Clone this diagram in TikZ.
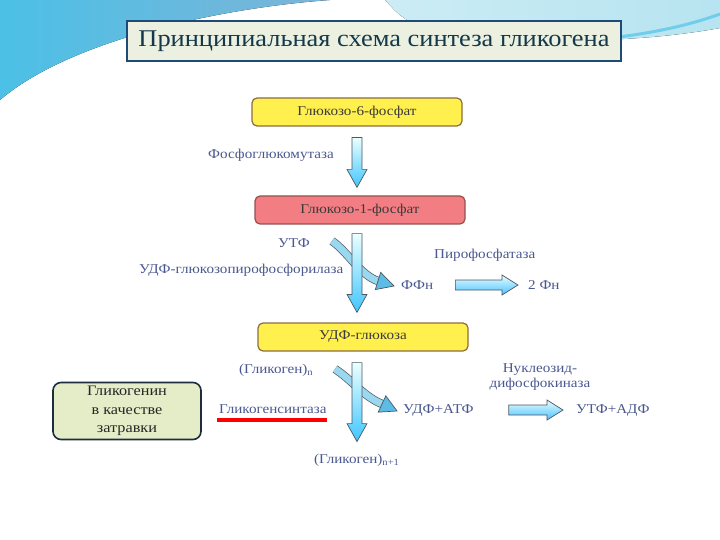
\documentclass[tikz,border=0pt]{standalone}
\usepackage{fontspec}
\setmainfont{Liberation Serif}
\newfontfamily\widef[FakeStretch=1.12]{Liberation Serif}
\newfontfamily\titlef[FakeStretch=1.1]{Liberation Serif}
\usetikzlibrary{calc}
\definecolor{lblc}{HTML}{4A5890}
\definecolor{boxtxt}{HTML}{3A3A3A}
\definecolor{yfill}{HTML}{FFF04E}
\definecolor{ydraw}{HTML}{8C6C3C}
\definecolor{pfill}{HTML}{F27E84}
\definecolor{pdraw}{HTML}{94504E}
\definecolor{arrline}{HTML}{4E5660}
\definecolor{titleline}{HTML}{1E4A78}
\definecolor{titlefill}{HTML}{ECF0E0}
\definecolor{titletxt}{HTML}{15384A}
\definecolor{gfill}{HTML}{E4ECC8}
\definecolor{gdraw}{HTML}{1E2C3E}
\definecolor{cbody}{HTML}{9AD8F0}
\definecolor{chead}{HTML}{5CBCE6}
\definecolor{swleft}{HTML}{4CC0E6}
\definecolor{swmid}{HTML}{7DB4D8}
\definecolor{swright}{HTML}{B6E4F0}
\newcommand\vblk[2]{\path[vblkstyle] let \p1=(#1), \p2=(#2) in
  (\x1-5pt,\y1) -- (\x1+5pt,\y1) -- (\x1+5pt,\y2+18pt) -- (\x1+10pt,\y2+18pt) -- (\x1,\y2)
  -- (\x1-10pt,\y2+18pt) -- (\x1-5pt,\y2+18pt) -- cycle;}
\newcommand\hblk[2]{\path[hblkstyle] let \p1=(#1), \p2=(#2) in
  (\x1,\y1+5pt) -- (\x2-16pt,\y1+5pt) -- (\x2-16pt,\y1+10pt) -- (\x2,\y1)
  -- (\x2-16pt,\y1-10pt) -- (\x2-16pt,\y1-5pt) -- (\x1,\y1-5pt) -- cycle;}
\newcommand\cblk[5]{%
  \draw[line width=0.7pt, draw=arrline, double=cbody, double distance=7pt] (#1) .. controls (#2) and (#3) .. (#4);
  \filldraw[draw=arrline, line width=0.7pt, fill=chead] (#5) -- ($(#4)!9pt!90:(#5)$) -- ($(#4)!9pt!-90:(#5)$) -- cycle;}
\begin{document}
\begin{tikzpicture}[x=1pt,y=-1pt,
  lbl/.style={text=lblc, font=\widef\fontsize{13.5}{15}\selectfont, inner sep=1pt},
  boxbase/.style={rounded corners=5pt, minimum width=210pt, minimum height=28pt, line width=1.2pt, text=boxtxt, font=\widef\fontsize{13.5}{15}\selectfont},
  ybox/.style={boxbase, draw=ydraw, fill=yfill},
  pbox/.style={boxbase, draw=pdraw, fill=pfill},
  vblkstyle/.style={draw=arrline, line width=0.7pt, top color=cyan!8!white, bottom color=cyan!70!blue!75!white},
  hblkstyle/.style={draw=arrline, line width=0.7pt, top color=cyan!10!white, bottom color=cyan!65!blue!70!white},
]
\useasboundingbox (0,0) rectangle (720,540);
% background swooshes
\fill[left color=swleft, right color=swmid] (0,0) -- (330,0) .. controls (220,8) and (70,40) .. (0,100) -- cycle;
\fill[left color=swright!70!white, right color=swright] (385,0) -- (720,0) -- (720,28) .. controls (610,48) and (480,42) .. (410,22) .. controls (398,14) .. (385,0) -- cycle;
\draw[line width=3pt, swleft!80!white] (560,42) .. controls (640,38) and (690,25) .. (720,14);
% title
\node[draw=titleline, line width=1.6pt, fill=titlefill, minimum width=494pt, minimum height=40pt, inner sep=0pt, text=titletxt, font=\titlef\fontsize{24}{26}\selectfont] (title) at (374,41) {Принципиальная схема синтеза гликогена};
% boxes
\node[ybox] (g6) at (357,112) {Глюкозо-6-фосфат};
\node[pbox] (g1) at (360,210) {Глюкозо-1-фосфат};
\node[ybox] (udpg) at (363,337) {УДФ-глюкоза};
\node[draw=gdraw, fill=gfill, line width=1.6pt, rounded corners=8pt, minimum width=148pt, minimum height=57pt, align=center, font=\widef\fontsize{14.5}{18.5}\selectfont, text=black!85, inner sep=1pt] (primer) at (127,411) {Гликогенин\\ в качестве\\ затравки};
% labels
\node[lbl, anchor=west] (pgm) at (207,155) {Фосфоглюкомутаза};
\node[lbl, anchor=west] (utp) at (277,243) {УТФ};
\node[lbl, anchor=west] (udpgp) at (138,270) {УДФ-глюкозопирофосфорилаза};
\node[lbl, anchor=west] (ppase) at (433,255) {Пирофосфатаза};
\node[lbl, anchor=west] (ppi) at (400,285) {ФФн};
\node[lbl, anchor=west] (pi2) at (527,285) {2 Фн};
\node[lbl, anchor=west] (glyn) at (238,370) {(Гликоген)\textsubscript{n}};
\node[lbl, anchor=west] (gs) at (218,409) {Гликогенсинтаза};
\node[lbl, anchor=west] (udpatp) at (402,410) {УДФ+АТФ};
\node[lbl, align=center] (ndk) at (540,377) {Нуклеозид-\\дифосфокиназа};
\node[lbl, anchor=west] (utpadp) at (575,410) {УТФ+АДФ};
\node[lbl, anchor=west] (glyn1) at (313,460) {(Гликоген)\textsubscript{n+1}};
% red underline
\draw[red, line width=4pt] ($(gs.south west)+(-1,5)$) -- ($(gs.south east)+(-1,5)$);
% coordinates
\coordinate (v1a) at ($(g6.south)+(0,11)$);
\coordinate (v1b) at ($(g1.north)+(-3,-8)$);
\coordinate (v2a) at ($(g1.south)+(-3,9)$);
\coordinate (v2b) at ($(udpg.north)+(-6,-10)$);
\coordinate (v3a) at ($(udpg.south)+(-6,11)$);
\coordinate (v3b) at ($(udpg.south)+(-6,90)$);
\coordinate (c1t) at (332,241);
\coordinate (c1a) at (348,252);
\coordinate (c1b) at (360,275);
\coordinate (c1e) at (378,281);
\coordinate (c1h) at ($(ppi.west)+(-6,1)$);
\coordinate (c2t) at (335,369);
\coordinate (c2a) at (352,380);
\coordinate (c2b) at (363,396);
\coordinate (c2e) at (382,404);
\coordinate (c2h) at ($(udpatp.west)+(-5,1)$);
% connectors
\cblk{c1t}{c1a}{c1b}{c1e}{c1h}
\cblk{c2t}{c2a}{c2b}{c2e}{c2h}
\vblk{v1a}{v1b}
\vblk{v2a}{v2b}
\vblk{v3a}{v3b}
\hblk{$(ppi.east)+(21,0)$}{$(pi2.west)+(-9,0)$}
\hblk{$(udpatp.east)+(34,0)$}{$(utpadp.west)+(-12,0)$}
\end{tikzpicture}
\end{document}
